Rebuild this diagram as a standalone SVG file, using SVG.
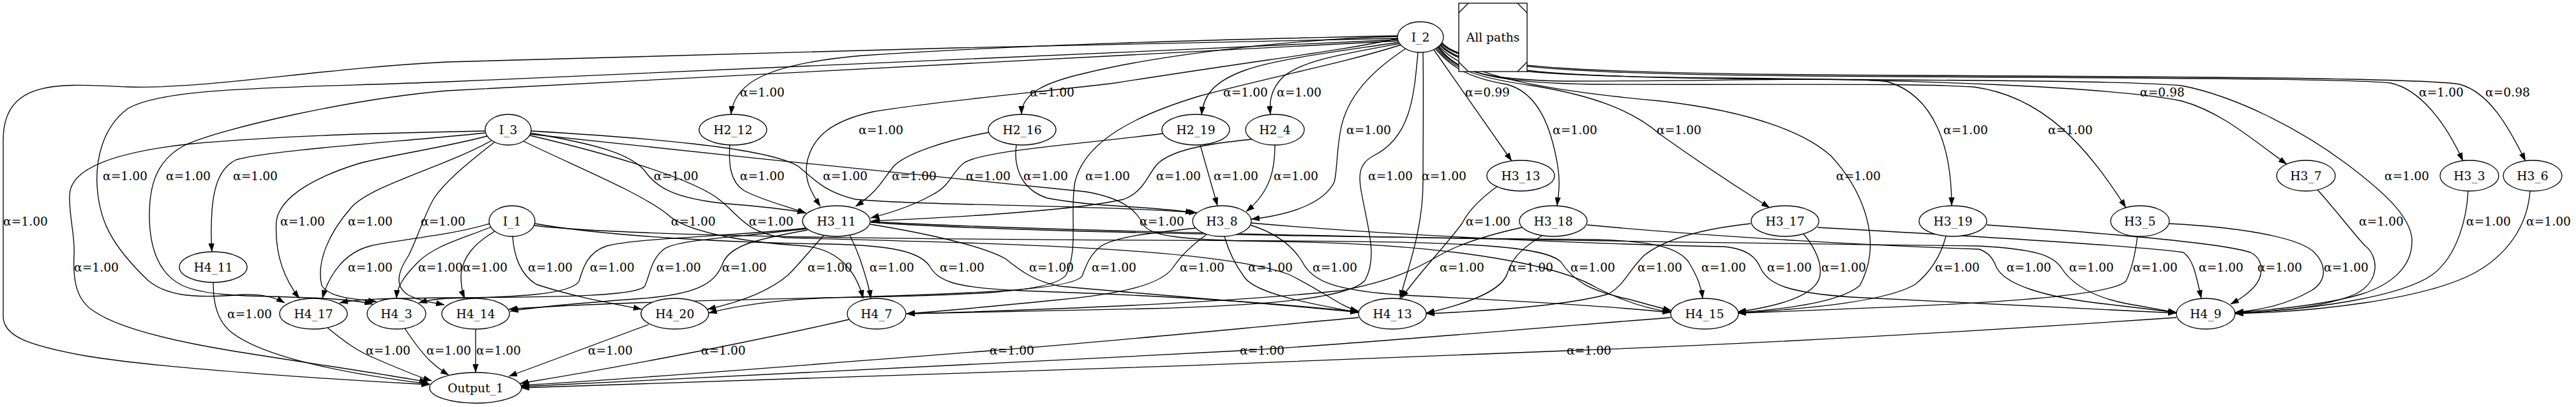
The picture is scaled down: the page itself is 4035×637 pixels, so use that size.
<svg xmlns="http://www.w3.org/2000/svg" width="4035" height="637" viewBox="0 0 4035 637">
<style>
text{font-family:"DejaVu Serif","Liberation Serif",serif;font-size:18.67px;text-anchor:middle;fill:#000}
.n ellipse{fill:#fff;stroke:#000;stroke-width:1.33}
.e path{fill:none;stroke:#000;stroke-width:1.33;marker-end:url(#a)}
</style>
<defs>
<marker id="a" markerWidth="14" markerHeight="10" refX="13" refY="4.7" orient="auto" markerUnits="userSpaceOnUse"><path d="M0,0 L13.3,4.7 L0,9.4 z" fill="#000"/></marker>
</defs>
<rect width="4035" height="637" fill="#fff"/>
<g id="connectors" class="e">
<path d="M2190,60 C1800,68 1000,85 700,97 C500,107 320,140 200,136 C100,132 5,120 5,220 L5,495 C5,525 40,540 134,557 C260,578 560,596 673,602"/>
<path d="M2190,62 C1600,90 900,120 700,128 C450,138 260,135 200,170 C160,200 150,250 152,290 C155,340 170,380 232,439 C260,462 300,468 380,461 C410,460 430,465 446,474"/>
<path d="M2190,64 C1500,100 900,130 700,142 C550,155 350,200 290,227 C245,250 234,290 234,337 C234,390 250,430 286,447 C320,462 380,463 420,464 C500,466 550,468 584,476"/>
<path d="M2195,70 C2100,100 2000,118 1880,150 C1780,180 1700,220 1684,284 C1675,330 1690,390 1670,430 C1650,460 1500,462 1300,466 C1100,470 900,476 797,484"/>
<path d="M2221,82 C2215,150 2210,215 2151,244 C2131,255 2128,270 2131,292 C2140,350 2160,400 2138,439 C2110,470 1950,479 1800,483 C1650,486 1500,489 1420,491"/>
<path d="M2229,82 C2230,150 2229,220 2229,284 C2229,360 2205,420 2193,467"/>
<path d="M2202,76 C2150,110 2110,150 2100,203 C2093,240 2095,265 2090,285 C2075,315 2030,335 1960,343"/>
<path d="M2190,60 C2100,80 2000,90 1746,130 C1650,142 1450,160 1367,175 C1300,190 1274,215 1265,250 C1258,280 1270,300 1285,323"/>
<path d="M2190,56 C1900,62 1600,70 1350,87 C1200,100 1150,130 1145,179"/>
<path d="M2190,57 C2000,62 1800,90 1702,114 C1640,128 1600,145 1600,179"/>
<path d="M2192,66 C2100,80 2000,92 1950,110 C1900,128 1885,150 1882,180"/>
<path d="M2193,68 C2100,85 2040,95 2010,120 C1990,140 1988,160 1990,179"/>
<path d="M2246,78 L2368,252"/>
<path d="M2248,76 C2270,100 2290,120 2360,132 C2410,145 2430,200 2440,260 C2445,290 2440,310 2439,322"/>
<path d="M2250,75 C2275,105 2300,120 2400,134 C2500,150 2560,175 2600,210 C2670,260 2740,305 2772,325"/>
<path d="M2252,74 C2280,110 2320,125 2450,127 C2700,127 2900,120 2957,128 C3030,150 3057,230 3057,322"/>
<path d="M2253,73 C2282,112 2330,130 2500,132 C2800,133 3000,130 3091,136 C3200,150 3270,230 3330,325"/>
<path d="M2254,72 C2290,115 2400,140 2600,158 C2750,175 2830,210 2868,244 C2920,300 2950,380 2913,447 C2880,475 2780,485 2722,489"/>
<path d="M2255,70 C2290,110 2400,120 2700,122 C3000,125 3300,135 3417,158 C3480,175 3530,220 3582,257"/>
<path d="M2256,69 C2290,112 2450,122 2800,124 C3200,126 3350,128 3417,134 C3500,150 3600,200 3675,256 C3740,305 3775,340 3778,374 C3780,420 3741,447 3700,460 C3640,478 3560,485 3501,489"/>
<path d="M2257,67 C2290,110 2500,118 3000,120 C3400,122 3700,124 3745,130 C3790,140 3830,190 3858,252"/>
<path d="M2258,66 C2290,108 2500,116 3000,118 C3400,120 3800,122 3853,132 C3900,145 3930,200 3956,252"/>
<path d="M760,205 C600,208 450,212 300,225 C160,240 110,270 109,305 C108,340 118,370 116,400 C114,440 120,470 147,487 C180,510 250,530 357,548 C460,565 600,585 670,598"/>
<path d="M760,208 C650,220 420,235 370,250 C345,262 335,290 332,330 C330,360 331,380 332,394"/>
<path d="M763,213 C700,230 600,245 562,256 C500,275 440,305 433,345 C430,390 440,430 469,467"/>
<path d="M770,220 C700,260 580,290 550,325 C515,365 495,410 504,447 C515,465 550,468 590,472"/>
<path d="M775,222 C740,250 700,280 680,310 C665,335 655,370 640,400 C620,430 620,450 640,462 C660,472 680,474 696,477"/>
<path d="M830,208 C930,225 990,240 1012,270 C1030,295 1060,310 1130,318 C1190,323 1235,328 1262,333"/>
<path d="M832,205 C1000,215 1200,230 1250,260 C1275,280 1290,300 1340,312 C1450,322 1700,320 1875,333"/>
<path d="M820,221 C900,260 1000,300 1045,335 C1070,360 1150,378 1260,385 C1310,390 1340,420 1352,467"/>
<path d="M830,212 C950,240 1090,280 1130,315 C1160,340 1170,365 1230,372 C1500,380 1900,385 2020,430 C2080,460 2100,480 2128,487"/>
<path d="M831,210 C1100,240 1500,280 1700,300 C1760,310 1780,330 1790,350 C1800,370 1850,376 2000,378 C2300,382 2450,420 2500,450 C2550,475 2590,485 2617,488"/>
<path d="M1143,227 C1141,260 1145,285 1165,298 C1190,312 1230,322 1263,334"/>
<path d="M1550,207 C1480,220 1420,240 1400,260 C1380,285 1375,300 1340,323"/>
<path d="M1822,209 C1700,225 1540,235 1510,255 C1490,270 1490,290 1460,305 C1430,322 1400,332 1364,341"/>
<path d="M1592,227 C1588,255 1595,295 1640,310 C1720,325 1800,322 1870,333"/>
<path d="M1880,227 L1907,322"/>
<path d="M1961,218 C1890,225 1830,235 1810,260 C1795,280 1790,300 1760,312 C1680,330 1500,340 1365,346"/>
<path d="M1997,227 C1997,265 1990,300 1952,331"/>
<path d="M2345,292 C2320,310 2300,330 2290,350 C2260,390 2220,430 2195,467"/>
<path d="M3630,297 C3660,330 3690,370 3705,385 C3725,400 3730,440 3690,460 C3640,482 3560,488 3501,490"/>
<path d="M3866,299 C3864,340 3850,400 3810,430 C3760,465 3620,485 3501,490"/>
<path d="M3963,299 C3960,340 3940,390 3880,425 C3800,470 3620,488 3501,491"/>
<path d="M767,350 C700,370 620,375 580,385 C540,395 515,430 505,467"/>
<path d="M770,355 C720,375 680,385 655,410 C630,435 622,450 621,467"/>
<path d="M775,362 C745,380 725,400 722,430 C722,450 725,460 728,467"/>
<path d="M803,370 C805,400 815,430 840,445 C900,465 960,475 1005,484"/>
<path d="M838,350 C950,370 1150,380 1300,382 C1400,384 1440,395 1455,415 C1470,440 1490,450 1600,455 C1900,465 2050,480 2128,488"/>
<path d="M837,353 C1000,372 1500,375 2000,377 C2300,378 2420,385 2445,410 C2465,440 2490,455 2550,468 C2580,476 2600,482 2618,486"/>
<path d="M1262,357 C1150,370 1000,372 950,385 C920,395 913,420 907,440 C895,462 800,465 700,467 C680,468 670,470 656,474"/>
<path d="M1263,358 C1150,372 1060,375 1040,390 C1020,405 1018,430 1010,448 C995,465 850,465 700,466 C600,467 560,468 532,474"/>
<path d="M1265,360 C1180,375 1145,385 1133,410 C1122,440 1100,460 1007,467 C900,475 830,482 799,487"/>
<path d="M1290,369 C1270,390 1255,410 1235,430 C1200,460 1150,475 1108,484"/>
<path d="M1331,368 C1345,395 1352,420 1358,440 C1362,455 1363,460 1364,467"/>
<path d="M1363,351 C1450,365 1540,385 1575,405 C1600,425 1620,440 1660,448 C1850,465 2050,480 2128,489"/>
<path d="M1364,348 C1600,365 2200,372 2500,375 C2600,378 2630,390 2645,410 C2660,435 2665,450 2667,467"/>
<path d="M1364,347 C1700,365 2500,378 3100,385 C3190,390 3215,400 3228,418 C3245,445 3280,465 3330,475 C3370,482 3390,486 3409,489"/>
<path d="M1872,357 C1800,365 1750,370 1725,385 C1705,400 1700,420 1695,432 C1680,455 1500,460 1300,466 C1200,470 1140,482 1110,490"/>
<path d="M1890,367 C1865,385 1850,400 1838,418 C1820,445 1760,460 1650,470 C1550,480 1460,488 1420,491"/>
<path d="M1918,370 C1925,395 1935,415 1950,435 C1970,460 2050,475 2128,489"/>
<path d="M1958,352 C2000,365 2025,385 2040,410 C2055,440 2090,455 2200,462 C2400,472 2550,482 2617,489"/>
<path d="M1960,349 C2200,370 2500,382 2700,386 C2740,390 2752,405 2758,420 C2770,445 2800,458 2900,465 C3100,475 3300,485 3409,490"/>
<path d="M2384,356 C2320,370 2280,385 2254,400 C2220,420 2180,440 2100,455 C1900,475 1600,486 1420,491"/>
<path d="M2415,369 C2390,385 2370,400 2362,425 C2355,455 2300,475 2234,490"/>
<path d="M2486,352 C2700,372 2950,385 3100,390 C3115,395 3122,405 3127,418 C3140,445 3200,465 3300,476 C3360,483 3390,487 3409,489"/>
<path d="M2742,350 C2650,360 2600,380 2575,400 C2550,425 2545,445 2520,460 C2450,480 2300,488 2234,491"/>
<path d="M2825,366 C2845,390 2855,415 2850,435 C2840,465 2780,480 2722,488"/>
<path d="M2847,356 C3100,370 3350,385 3420,395 C3435,405 3440,430 3448,467"/>
<path d="M3048,370 C3040,400 3025,425 3000,445 C2950,475 2800,485 2722,490"/>
<path d="M3112,352 C3300,365 3480,380 3525,395 C3545,405 3548,430 3530,450 C3515,465 3505,470 3494,476"/>
<path d="M3348,370 C3345,395 3340,420 3330,440 C3300,470 3000,480 2722,490"/>
<path d="M3397,350 C3500,355 3600,370 3625,395 C3645,415 3645,440 3620,455 C3580,478 3540,485 3501,489"/>
<path d="M334,442 C334,475 340,500 360,518 C420,568 600,592 673,601"/>
<path d="M513,513 C540,535 560,550 590,562 C620,575 650,588 676,596"/>
<path d="M634,514 C648,535 660,552 675,566 C685,575 693,581 703,587"/>
<path d="M745,515 L745,583"/>
<path d="M1016,508 L797,589"/>
<path d="M1330,500 C1200,530 1000,570 815,600"/>
<path d="M2128,497 C1900,518 1700,538 1550,549 C1300,568 1000,593 816,603"/>
<path d="M2617,497 C2300,522 2100,540 1940,549 C1500,572 1000,598 816,605"/>
<path d="M3409,497 C3000,525 2700,540 2452,549 C1900,572 1100,600 816,607"/>
<g id="edge-labels">
<text x="1194" y="150.5">α=1.00</text><text x="1648" y="150.5">α=1.00</text><text x="1951" y="150.5">α=1.00</text><text x="2035" y="150.5">α=1.00</text><text x="2330" y="150.5">α=0.99</text><text x="3387" y="150.5">α=0.98</text><text x="3824" y="150.5">α=1.00</text><text x="3928" y="150.5">α=0.98</text>
<text x="1380" y="209.5">α=1.00</text><text x="2144" y="209.5">α=1.00</text><text x="2467" y="209.5">α=1.00</text><text x="2630" y="209.5">α=1.00</text><text x="3079" y="209.5">α=1.00</text><text x="3243" y="209.5">α=1.00</text>
<text x="196" y="281.5">α=1.00</text><text x="295" y="281.5">α=1.00</text><text x="400" y="281.5">α=1.00</text><text x="1059" y="281.5">α=1.00</text><text x="1194" y="281.5">α=1.00</text><text x="1324" y="281.5">α=1.00</text><text x="1432" y="281.5">α=1.00</text><text x="1548" y="281.5">α=1.00</text><text x="1638" y="281.5">α=1.00</text><text x="1735" y="281.5">α=1.00</text><text x="1846" y="281.5">α=1.00</text><text x="1936" y="281.5">α=1.00</text><text x="2030" y="281.5">α=1.00</text><text x="2178" y="281.5">α=1.00</text><text x="2262" y="281.5">α=1.00</text><text x="2911" y="281.5">α=1.00</text><text x="3770" y="281.5">α=1.00</text>
<text x="40" y="352.5">α=1.00</text><text x="474" y="352.5">α=1.00</text><text x="580" y="352.5">α=1.00</text><text x="694" y="352.5">α=1.00</text><text x="1086" y="352.5">α=1.00</text><text x="1208" y="352.5">α=1.00</text><text x="1820" y="352.5">α=1.00</text><text x="2331" y="352.5">α=1.00</text><text x="3730" y="352.5">α=1.00</text><text x="3898" y="352.5">α=1.00</text><text x="3992" y="352.5">α=1.00</text>
<text x="151" y="424.5">α=1.00</text><text x="580" y="424.5">α=1.00</text><text x="690" y="424.5">α=1.00</text><text x="760" y="424.5">α=1.00</text><text x="862" y="424.5">α=1.00</text><text x="959" y="424.5">α=1.00</text><text x="1063" y="424.5">α=1.00</text><text x="1166" y="424.5">α=1.00</text><text x="1300" y="424.5">α=1.00</text><text x="1397" y="424.5">α=1.00</text><text x="1507" y="424.5">α=1.00</text><text x="1647" y="424.5">α=1.00</text><text x="1745" y="424.5">α=1.00</text><text x="1883" y="424.5">α=1.00</text><text x="1990" y="424.5">α=1.00</text><text x="2091" y="424.5">α=1.00</text><text x="2290" y="424.5">α=1.00</text><text x="2398" y="424.5">α=1.00</text><text x="2495" y="424.5">α=1.00</text><text x="2600" y="424.5">α=1.00</text><text x="2700" y="424.5">α=1.00</text><text x="2803" y="424.5">α=1.00</text><text x="2888" y="424.5">α=1.00</text><text x="3066" y="424.5">α=1.00</text><text x="3178" y="424.5">α=1.00</text><text x="3276" y="424.5">α=1.00</text><text x="3376" y="424.5">α=1.00</text><text x="3479" y="424.5">α=1.00</text><text x="3571" y="424.5">α=1.00</text><text x="3675" y="424.5">α=1.00</text>
<text x="391" y="497.5">α=1.00</text>
<text x="608" y="554.5">α=1.00</text><text x="703" y="554.5">α=1.00</text><text x="781" y="554.5">α=1.00</text><text x="956" y="554.5">α=1.00</text><text x="1133" y="554.5">α=1.00</text><text x="1585" y="554.5">α=1.00</text><text x="1977" y="554.5">α=1.00</text><text x="2489" y="554.5">α=1.00</text>
</g>
</g>
<g id="legend">
<rect x="2285" y="5" width="107" height="107" fill="#fff" stroke="#000" stroke-width="1.33"/>
<path d="M2285,20 L2300,5 M2377,5 L2392,20 M2285,97 L2300,112 M2377,112 L2392,97" stroke="#000" stroke-width="1.33" fill="none"/>
<text x="2338.5" y="65">All paths</text>
</g>
<g id="I_2" class="n"><ellipse cx="2225" cy="58" rx="36" ry="24"/><text x="2225" y="64.5">I_2</text></g>
<g id="I_3" class="n"><ellipse cx="796" cy="203" rx="36" ry="24"/><text x="796" y="209.5">I_3</text></g>
<g id="I_1" class="n"><ellipse cx="802" cy="346" rx="36" ry="24"/><text x="802" y="352.5">I_1</text></g>
<g id="H2_12" class="n"><ellipse cx="1148" cy="203" rx="53" ry="24"/><text x="1148" y="209.5">H2_12</text></g>
<g id="H2_16" class="n"><ellipse cx="1601" cy="203" rx="53" ry="24"/><text x="1601" y="209.5">H2_16</text></g>
<g id="H2_19" class="n"><ellipse cx="1873" cy="203" rx="53" ry="24"/><text x="1873" y="209.5">H2_19</text></g>
<g id="H2_4" class="n"><ellipse cx="1997" cy="203" rx="46" ry="24"/><text x="1997" y="209.5">H2_4</text></g>
<g id="H3_13" class="n"><ellipse cx="2382" cy="275" rx="53" ry="24"/><text x="2382" y="281.5">H3_13</text></g>
<g id="H3_7" class="n"><ellipse cx="3612" cy="275" rx="46" ry="24"/><text x="3612" y="281.5">H3_7</text></g>
<g id="H3_3" class="n"><ellipse cx="3868" cy="275" rx="46" ry="24"/><text x="3868" y="281.5">H3_3</text></g>
<g id="H3_6" class="n"><ellipse cx="3967" cy="275" rx="46" ry="24"/><text x="3967" y="281.5">H3_6</text></g>
<g id="H3_11" class="n"><ellipse cx="1310" cy="346" rx="53" ry="24"/><text x="1310" y="352.5">H3_11</text></g>
<g id="H3_8" class="n"><ellipse cx="1914" cy="346" rx="46" ry="24"/><text x="1914" y="352.5">H3_8</text></g>
<g id="H3_18" class="n"><ellipse cx="2433" cy="346" rx="53" ry="24"/><text x="2433" y="352.5">H3_18</text></g>
<g id="H3_17" class="n"><ellipse cx="2796" cy="346" rx="53" ry="24"/><text x="2796" y="352.5">H3_17</text></g>
<g id="H3_19" class="n"><ellipse cx="3059" cy="346" rx="53" ry="24"/><text x="3059" y="352.5">H3_19</text></g>
<g id="H3_5" class="n"><ellipse cx="3352" cy="346" rx="46" ry="24"/><text x="3352" y="352.5">H3_5</text></g>
<g id="H4_11" class="n"><ellipse cx="334" cy="418" rx="53" ry="24"/><text x="334" y="424.5">H4_11</text></g>
<g id="H4_17" class="n"><ellipse cx="491" cy="491" rx="53" ry="24"/><text x="491" y="497.5">H4_17</text></g>
<g id="H4_3" class="n"><ellipse cx="621" cy="491" rx="46" ry="24"/><text x="621" y="497.5">H4_3</text></g>
<g id="H4_14" class="n"><ellipse cx="745" cy="491" rx="53" ry="24"/><text x="745" y="497.5">H4_14</text></g>
<g id="H4_20" class="n"><ellipse cx="1057" cy="491" rx="53" ry="24"/><text x="1057" y="497.5">H4_20</text></g>
<g id="H4_7" class="n"><ellipse cx="1373" cy="491" rx="46" ry="24"/><text x="1373" y="497.5">H4_7</text></g>
<g id="H4_13" class="n"><ellipse cx="2181" cy="491" rx="53" ry="24"/><text x="2181" y="497.5">H4_13</text></g>
<g id="H4_15" class="n"><ellipse cx="2670" cy="491" rx="53" ry="24"/><text x="2670" y="497.5">H4_15</text></g>
<g id="H4_9" class="n"><ellipse cx="3455" cy="491" rx="46" ry="24"/><text x="3455" y="497.5">H4_9</text></g>
<g id="Output_1" class="n"><ellipse cx="745" cy="607" rx="72" ry="24"/><text x="745" y="613.5">Output_1</text></g>
</svg>
